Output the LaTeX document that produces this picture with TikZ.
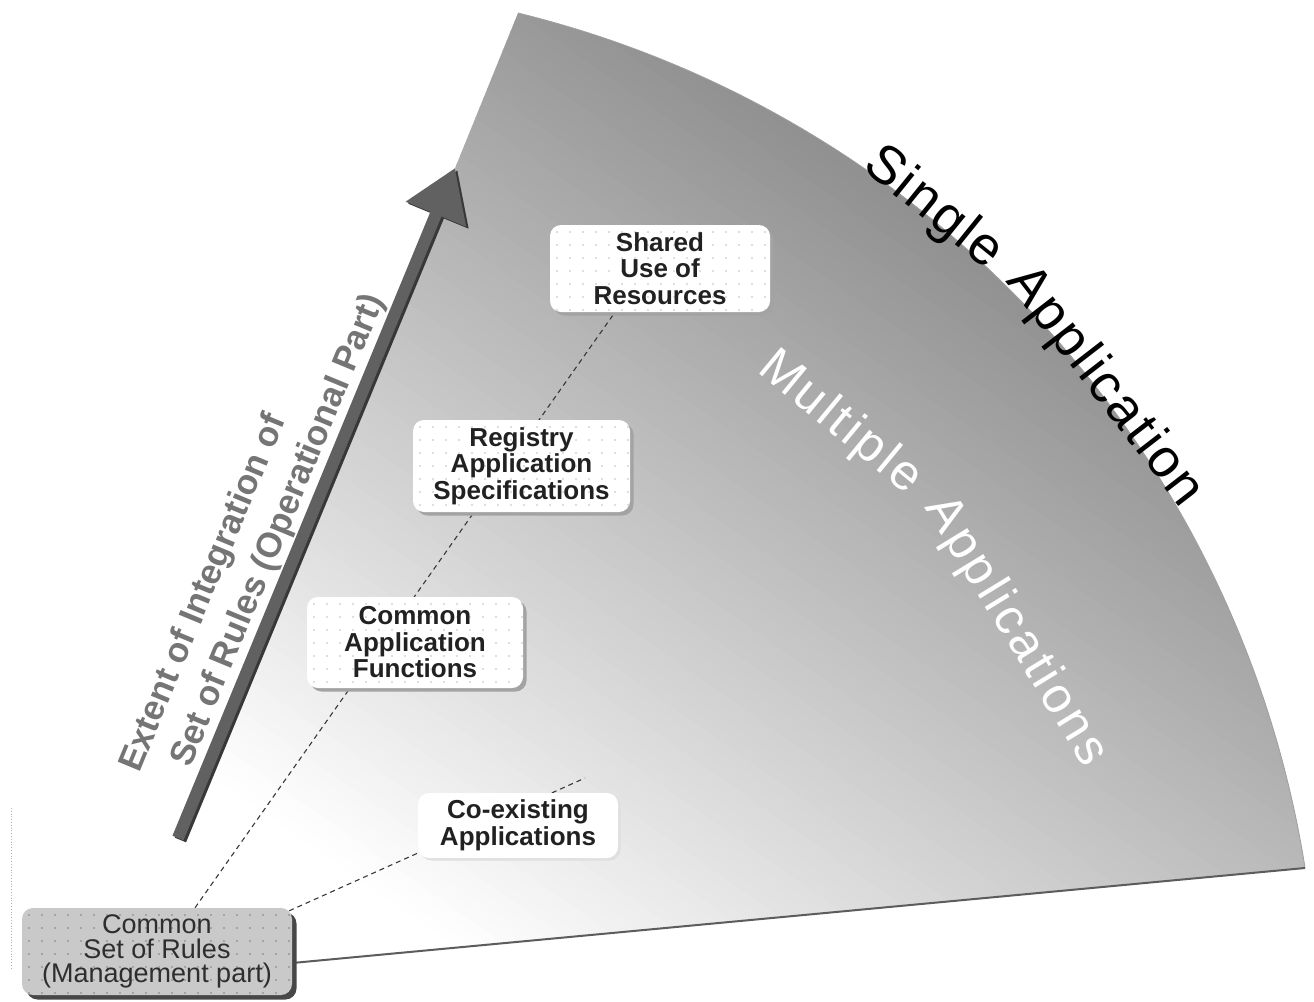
\documentclass[tikz,border=0pt]{standalone}
\usepackage{fontspec}
\setmainfont{Liberation Sans}
\usetikzlibrary{arrows.meta,shadows,calc}
\pgfdeclarelayer{bg}
\pgfsetlayers{bg,main}
\definecolor{fandark}{gray}{0.55}
\definecolor{boxtext}{gray}{0.13}
\definecolor{boxshade}{gray}{0.64}
\definecolor{mgmtfill}{gray}{0.79}
\definecolor{mgmtshade}{gray}{0.28}
\definecolor{mgmttext}{gray}{0.18}
\definecolor{arrowgray}{gray}{0.38}
\definecolor{arrowshade}{gray}{0.22}
\definecolor{labelgray}{gray}{0.46}
\definecolor{dashgray}{gray}{0.22}
\definecolor{edgegray}{gray}{0.36}
\definecolor{dotc}{gray}{0.74}
\definecolor{dotm}{gray}{0.5}
\tikzset{
  boxdots/.style={path picture={\foreach \i in {0,...,21}{\foreach \j in {0,...,7}{\fill[#1] ($(path picture bounding box.north west)+(7+\i*13,-7-\j*13)$) circle (0.9);}}}},
  wbox/.style={rounded corners=11, fill=white, inner sep=0pt, align=center, text=boxtext,
    font=\fontsize{26}{26.5}\selectfont\bfseries,
    drop shadow={shadow xshift=3.5, shadow yshift=-3.5, fill=boxshade, opacity=1}, boxdots=dotc},
  cbox/.style={rounded corners=11, fill=white, inner sep=0pt, align=center, text=boxtext,
    font=\fontsize{26}{27.5}\selectfont\bfseries,
    drop shadow={shadow xshift=2.5, shadow yshift=-2.5, fill=gray!25, opacity=1}},
  mbox/.style={rounded corners=11, fill=mgmtfill, inner sep=0pt, align=center, text=mgmttext,
    font=\fontsize{27}{24.5}\selectfont,
    drop shadow={shadow xshift=4.5, shadow yshift=-4.5, fill=mgmtshade, opacity=1}, boxdots=dotm},
  lab/.style={inner sep=0pt, text=labelgray, font=\fontsize{35}{40}\selectfont\bfseries},
  singleword/.style={inner sep=0pt, anchor=base, text=black,
    font=\fontsize{54}{54}\selectfont\addfontfeature{LetterSpace=4.5}},
  multiword/.style={inner sep=0pt, anchor=base, text=white,
    font=\fontsize{50}{50}\selectfont\addfontfeature{LetterSpace=6.6}},
  dashline/.style={draw=dashgray, line width=1.1, dash pattern=on 5pt off 4pt},
  arrowstyle/.style={line width=12, draw=arrowgray, fill=arrowgray, -{Triangle[length=50pt, width=62pt]}},
  arrowshadow/.style={line width=12, draw=arrowshade, fill=arrowshade, -{Triangle[length=50pt, width=62pt]}},
  fanedge/.style={draw=gray!75, line width=0.8},
  bottomedge/.style={draw=edgegray, line width=2},
}
\begin{document}
\begin{tikzpicture}[x=1pt,y=1pt]
\useasboundingbox (0,0) rectangle (1314,-1001);
\coordinate (fanC) at (268,-1033);
\coordinate (fanTop) at (518,-13);
\coordinate (fanRight) at (1305,-868);
\coordinate (fanApex) at (126,-979);
\coordinate (multC) at (313,-1062);

% boxes
\node[wbox, minimum width=220, minimum height=87] (shared) at (660,-268.5) {Shared\\Use of\\Resources};
\node[wbox, minimum width=217, minimum height=92] (registry) at (521.5,-466) {Registry\\Application\\Specifications};
\node[wbox, minimum width=216, minimum height=91] (caf) at (415,-642.5) {Common\\Application\\Functions};
\node[cbox, minimum width=200, minimum height=65] (coex) at (518,-825.5) {Co-existing\\Applications};
\node[mbox, minimum width=270, minimum height=87] (mgmt) at (157,-951.5) {Common\\Set of Rules\\(Management part)};

\coordinate (dashEnd) at (585,-778);

\begin{pgfonlayer}{bg}
  % fan with gradient
  \begin{scope}
    \clip (fanApex) -- (fanTop) arc[start angle=76.23, end angle=9.04, radius=1050] -- cycle;
    \begin{scope}[shift={(200,-950)}, rotate=-35]
      \fill[white] (-2000,-1500) rectangle (2000,151);
      \foreach \i in {0,...,89}{
        \pgfmathsetmacro\g{1-0.451*(\i+0.5)/90}
        \definecolor{bandc}{gray}{\g}
        \fill[bandc] (-2000,150+\i*10) rectangle (2000,161+\i*10);
      }
      \fill[fandark] (-2000,1049) rectangle (2000,2500);
    \end{scope}
  \end{scope}
  \draw[fanedge] (fanTop) arc[start angle=76.23, end angle=9.04, radius=1050];
  \draw[bottomedge] ([yshift=-11.5]mgmt.east) -- (fanRight);
  \draw[dashline] ([xshift=38]mgmt.north) -- ([xshift=-45]shared.south);
  \draw[dashline] ([shift={(-3,-3)}]mgmt.north east) -- (dashEnd);
\end{pgfonlayer}

% arrow
\coordinate (arrTail) at (178,-838);
\coordinate (arrTip) at (455,-168);
\draw[arrowshadow] ([shift={(2.5,-2)}]arrTail) -- ([shift={(2.5,-2)}]arrTip);
\draw[arrowstyle] (arrTail) -- (arrTip);

% arrow label
\node[lab, anchor=base west, rotate=67.5] (lab1) at (139,-774) {Extent of Integration of};
\node[lab, anchor=base west, rotate=67.5] (lab2) at (190,-769) {Set of Rules (Operational Part)};

% curved labels, one word at a time, following the arcs
\node[singleword, rotate=51.1-90] (single) at ([shift={(51.1:1045)}]fanC) {Single};
\node[singleword, rotate=37.7-90] (singleapp) at ([shift={(37.7:1043)}]fanC) {Application};
\node[multiword, rotate=50.5-90] (multi) at ([shift={(50.5:815)}]multC) {Multiple};
\node[multiword, rotate=31.5-90] (multiapp) at ([shift={(31.5:811)}]multC) {Applications};

% faint dotted mark at left
\coordinate (dv1) at (11,-808);
\coordinate (dv2) at (11,-970);
\draw[gray!60, line width=0.8, dotted] (dv1) -- (dv2);
\end{tikzpicture}
\end{document}
